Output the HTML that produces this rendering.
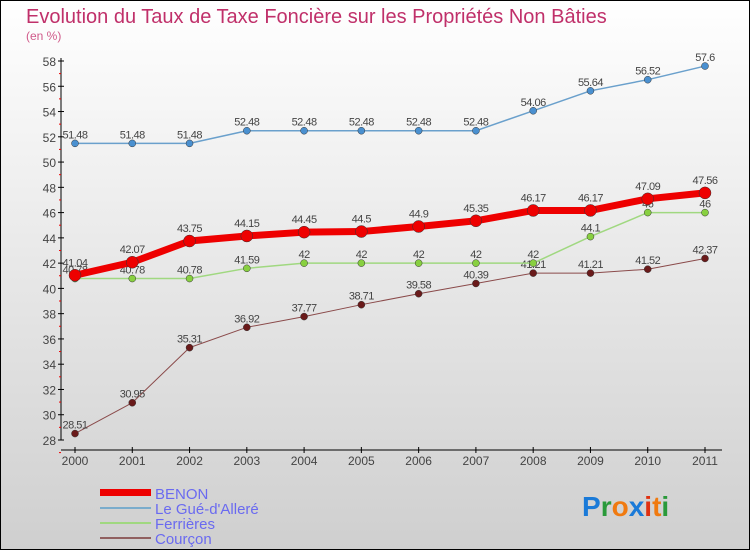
<!DOCTYPE html>
<html><head><meta charset="utf-8"><style>
body{margin:0;}
#c{width:750px;height:550px;position:relative;overflow:hidden;}
svg{display:block;font-family:"Liberation Sans",sans-serif;}
</style></head><body>
<div id="c">
<svg id="s" width="750" height="550">
<defs><linearGradient id="bg" x1="0" y1="0" x2="0" y2="1"><stop offset="0" stop-color="#ffffff"/><stop offset="1" stop-color="#cfcfcf"/></linearGradient></defs>
<rect x="0.5" y="0.5" width="749" height="549" fill="url(#bg)" stroke="#000"/>
<text x="26" y="23" font-size="20" fill="#c0306a">Evolution du Taux de Taxe Foncière sur les Propriétés Non Bâties</text>
<text x="26" y="40" font-size="12" fill="#d05a8a">(en %)</text>
<g id="axes"></g>
<g id="series"></g>
<g>
<rect x="100" y="489" width="51" height="7" fill="#e00"/>
<text x="155" y="499" font-size="15" fill="#6a6af0">BENON</text>
<rect x="100" y="507" width="51" height="2" fill="#7aaccc"/>
<text x="155" y="514" font-size="15" fill="#6a6af0">Le Gué-d'Alleré</text>
<rect x="100" y="522" width="51" height="2" fill="#a0d880"/>
<text x="155" y="529" font-size="15" fill="#6a6af0">Ferrières</text>
<rect x="100" y="537" width="51" height="2" fill="#906060"/>
<text x="155" y="544" font-size="15" fill="#6a6af0">Courçon</text>
</g>
<g font-size="28" font-weight="bold">
<text x="582" y="516"><tspan fill="#1a7ad8">P</tspan><tspan fill="#2a9a3a">r</tspan><tspan fill="#f07a10">o</tspan><tspan fill="#1a7ad8">x</tspan><tspan fill="#e03010">i</tspan><tspan fill="#f07a10">t</tspan><tspan fill="#2a9a3a">i</tspan></text>
</g>
</svg></div>
<script>
const years=[2000,2001,2002,2003,2004,2005,2006,2007,2008,2009,2010,2011];
const benon=[41.04,42.07,43.75,44.15,44.45,44.5,44.9,45.35,46.17,46.17,47.09,47.56];
const gue=[51.48,51.48,51.48,52.48,52.48,52.48,52.48,52.48,54.06,55.64,56.52,57.6];
const ferrieres=[40.78,40.78,40.78,41.59,42,42,42,42,42,44.1,46,46];
const courcon=[28.51,30.95,35.31,36.92,37.77,38.71,39.58,40.39,41.21,41.21,41.52,42.37];
const yTicks=[28,30,32,34,36,38,40,42,44,46,48,50,52,54,56,58];
const NS="http://www.w3.org/2000/svg";
const xS=i=>75+i*(705-75)/(years.length-1);
const yS=v=>440-(v-28)*(440-61)/30;
function el(t,a,p){const e=document.createElementNS(NS,t);for(const k in a)e.setAttribute(k,a[k]);p.appendChild(e);return e;}
const ax=document.getElementById('axes');
const yl=el('line',{x1:61,y1:58,x2:61,y2:440,stroke:'#000'},ax);


const xl=el('line',{x1:61,y1:450,x2:722,y2:450,stroke:'#000'},ax);


yTicks.forEach(v=>{const y=yS(v);
 el('line',{x1:58,y1:y,x2:64,y2:y,stroke:'#000'},ax);
 el('line',{x1:59,y1:y+12.6,x2:61,y2:y+12.6,stroke:'#e00'},ax);
 const t=el('text',{x:56,y:y+5,'font-size':12,fill:'#444','text-anchor':'end'},ax);t.textContent=v;
 
 });
years.forEach((yr,i)=>{const x=xS(i);
 el('line',{x1:x,y1:447,x2:x,y2:453,stroke:'#000'},ax);
 const t=el('text',{x:x,y:465,'font-size':12,fill:'#444','text-anchor':'middle'},ax);t.textContent=yr;
 
 });
const sg=document.getElementById('series');
function series(name,data,color,w,r,dot,lblDy){
 const g=el('g',{},sg);
 
 
 const pl=el('polyline',{points:data.map((v,i)=>xS(i)+','+yS(v)).join(' '),fill:'none',stroke:color,'stroke-width':w,'stroke-linejoin':'round'},g);
 
 
 data.forEach((v,i)=>{
  const c=el('circle',{cx:xS(i),cy:yS(v),r:r,fill:dot,stroke:'#333','stroke-width':0.5},g);
  
  
  const t=el('text',{x:xS(i),y:yS(v)+lblDy,'font-size':11,fill:'#444','text-anchor':'middle','letter-spacing':'-0.5'},g);t.textContent=v;
  
  });
}
series('courcon',courcon,'#8a4a4a',1,3.5,'#6a1a1a',-5);
series('ferrieres',ferrieres,'#a0d880',1.5,3.5,'#88d040',-5);
series('gue',gue,'#6aa0cc',1.5,3.5,'#4a90d0',-5);
series('benon',benon,'#e00',7,6,'#e00',-9);
</script>
</body></html>
